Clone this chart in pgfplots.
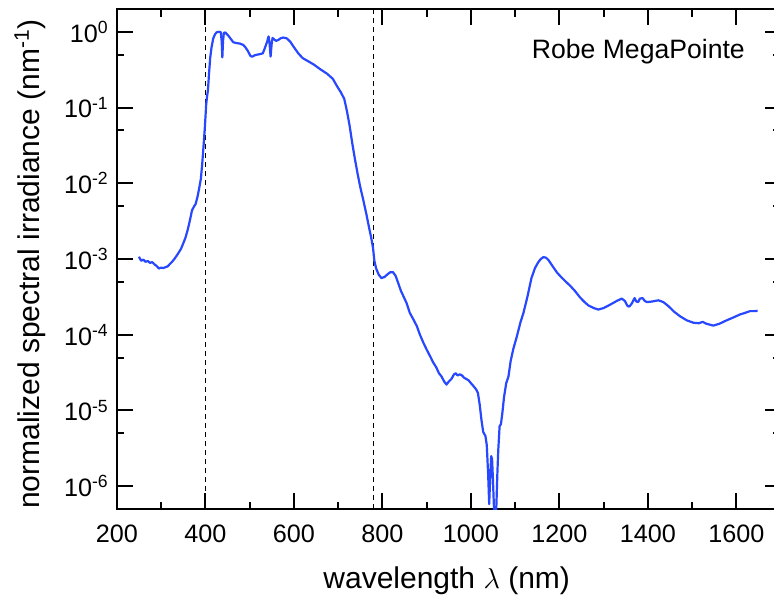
\documentclass[border=0pt]{standalone}
\usepackage{fontspec}
\setmainfont{Liberation Sans}
\usepackage{pgfplots}
\pgfplotsset{compat=1.18}
\definecolor{specblue}{RGB}{40,72,255}
\newcommand\tickfont{\fontsize{12.6}{15}\selectfont}
\newcommand\labelfont{\fontsize{15}{18}\selectfont}

% normalized spectral irradiance of the fixture (wavelength in nm)
\pgfplotstableread{
lambda E
250 1.07e-3
255 9.5e-4
260 9.8e-4
265 9.2e-4
270 9.4e-4
275 8.9e-4
280 9.1e-4
285 8.5e-4
290 8.1e-4
295 7.5e-4
300 7.7e-4
305 7.6e-4
310 7.8e-4
315 8.0e-4
320 8.6e-4
325 9.2e-4
330 1.0e-3
335 1.1e-3
340 1.22e-3
345 1.36e-3
350 1.6e-3
355 1.9e-3
360 2.4e-3
365 3.2e-3
370 4.4e-3
375 5.0e-3
378 5.3e-3
382 6.5e-3
386 8.5e-3
390 1.15e-2
393 1.8e-2
396 3.1e-2
399 5.5e-2
402 0.11
404 0.14
406 0.17
408 0.26
411 0.45
414 0.62
418 0.82
422 0.93
426 0.99
431 1.0
435 0.99
437 0.75
438.5 0.46
440 0.75
442 0.97
445 0.98
452 0.89
458 0.80
463 0.73
470 0.71
478 0.70
486 0.67
491 0.62
496 0.56
502 0.48
506 0.47
512 0.49
518 0.50
525 0.51
530 0.52
535 0.62
540 0.75
543 0.87
545 0.72
547.5 0.47
550 0.70
552 0.83
556 0.79
560 0.76
565 0.78
570 0.82
576 0.84
584 0.82
592 0.74
600 0.63
610 0.52
620 0.45
632 0.41
645 0.37
660 0.32
675 0.28
688 0.24
698 0.19
706 0.16
714 0.13
720 0.09
726 0.058
732 0.034
738 0.021
744 0.0135
750 9.0e-3
757 6.0e-3
764 3.9e-3
770 2.6e-3
775 1.9e-3
779 1.4e-3
782 9.5e-4
786 7.5e-4
792 6.2e-4
798 5.6e-4
805 5.8e-4
812 6.3e-4
818 6.7e-4
824 6.7e-4
830 6.0e-4
836 4.8e-4
842 3.8e-4
848 3.2e-4
855 2.6e-4
862 1.95e-4
870 1.6e-4
878 1.3e-4
885 1.0e-4
893 7.8e-5
900 6.4e-5
908 5.2e-5
915 4.3e-5
922 3.7e-5
928 3.1e-5
934 2.8e-5
940 2.4e-5
945 2.2e-5
950 2.4e-5
956 2.6e-5
962 3.0e-5
966 3.1e-5
970 2.9e-5
975 3.0e-5
980 2.9e-5
985 2.7e-5
990 2.6e-5
995 2.5e-5
1000 2.3e-5
1006 2.1e-5
1012 1.9e-5
1016 1.7e-5
1020 1.2e-5
1024 7.5e-6
1028 5.2e-6
1033 4.6e-6
1036 3.5e-6
1039 1.5e-6
1041.5 5.8e-7
1043.5 1.2e-6
1046 2.5e-6
1048 2.3e-6
1050 1.2e-6
1053 4e-7
1057 4e-7
1060 1.5e-6
1062 3.0e-6
1065 6.2e-6
1068 6.6e-6
1071 9e-6
1075 1.5e-5
1080 2.3e-5
1085 2.8e-5
1090 4.5e-5
1096 6.5e-5
1104 9.5e-5
1112 1.45e-4
1119 1.95e-4
1128 3.2e-4
1137 5.6e-4
1145 7.6e-4
1152 9.0e-4
1158 1.0e-3
1164 1.06e-3
1170 1.04e-3
1176 9.6e-4
1185 8.0e-4
1195 6.6e-4
1205 5.7e-4
1215 5.0e-4
1225 4.4e-4
1235 3.8e-4
1247 3.1e-4
1257 2.7e-4
1266 2.43e-4
1278 2.25e-4
1288 2.15e-4
1300 2.25e-4
1315 2.5e-4
1330 2.8e-4
1341 3.0e-4
1348 2.8e-4
1354 2.4e-4
1358 2.35e-4
1364 2.6e-4
1370 3.05e-4
1374 2.75e-4
1378 2.7e-4
1382 3.0e-4
1388 3.05e-4
1393 2.8e-4
1398 2.7e-4
1410 2.75e-4
1424 2.85e-4
1435 2.7e-4
1446 2.4e-4
1460 2.0e-4
1473 1.75e-4
1488 1.55e-4
1503 1.44e-4
1515 1.42e-4
1524 1.48e-4
1532 1.40e-4
1548 1.32e-4
1562 1.40e-4
1578 1.55e-4
1594 1.70e-4
1608 1.85e-4
1620 1.95e-4
1631 2.05e-4
1640 2.05e-4
1648 2.07e-4
}\spectrum

\begin{document}
\begin{tikzpicture}
\begin{axis}[
  at={(0,0)}, anchor=south west,
  scale only axis, width=331.9pt, height=250pt,
  xmin=200, xmax=1700,
  ymode=log, ymin=5e-7, ymax=2,
  xtick={200,400,600,800,1000,1200,1400,1600},
  xticklabels={{\tickfont 200},{\tickfont 400},{\tickfont 600},{\tickfont 800},{\tickfont 1000},{\tickfont 1200},{\tickfont 1400},{\tickfont 1600}},
  minor xtick={300,500,700,900,1100,1300,1500,1700},
  ytick={1e-6,1e-5,1e-4,1e-3,1e-2,1e-1,1},
  yticklabels={{\tickfont 10\textsuperscript{-6}},{\tickfont 10\textsuperscript{-5}},{\tickfont 10\textsuperscript{-4}},{\tickfont 10\textsuperscript{-3}},{\tickfont 10\textsuperscript{-2}},{\tickfont 10\textsuperscript{-1}},{\tickfont 10\textsuperscript{0}}},
  minor ytick={5e-6,5e-5,5e-4,5e-3,5e-2,5e-1},
  tick align=inside,
  major tick length=8pt, minor tick length=3.75pt,
  tick style={black, line width=1pt},
  axis line style={line width=1pt},
  xticklabel style={yshift=-4.5pt},
  yticklabel style={xshift=-0.5pt},
  every axis x label/.style={at={(axis description cs:0.497,-0.143)}, anchor=center},
  every axis y label/.style={at={(axis description cs:-0.1308,0.49)}, anchor=center, rotate=90},
  xlabel={\labelfont wavelength $\lambda$ (nm)},
  ylabel={\labelfont normalized spectral irradiance (nm\textsuperscript{-1})},
]
\addplot[black, line width=0.5pt, dash pattern=on 2.5pt off 2pt] coordinates {(400,5e-7) (400,2)};
\addplot[black, line width=0.5pt, dash pattern=on 2.5pt off 2pt] coordinates {(780,5e-7) (780,2)};
\addplot[specblue, line width=1.1pt, no marks, line join=round] table[x=lambda, y=E] {\spectrum};
\node[anchor=east, inner sep=0pt, font=\fontsize{13.3}{16}\selectfont] at (axis cs:1620,0.545) {Robe MegaPointe};
\end{axis}
\pgfresetboundingbox
\path[use as bounding box] (-58.4pt,-46pt) rectangle (328.6pt,254.5pt);
\end{tikzpicture}
\end{document}
